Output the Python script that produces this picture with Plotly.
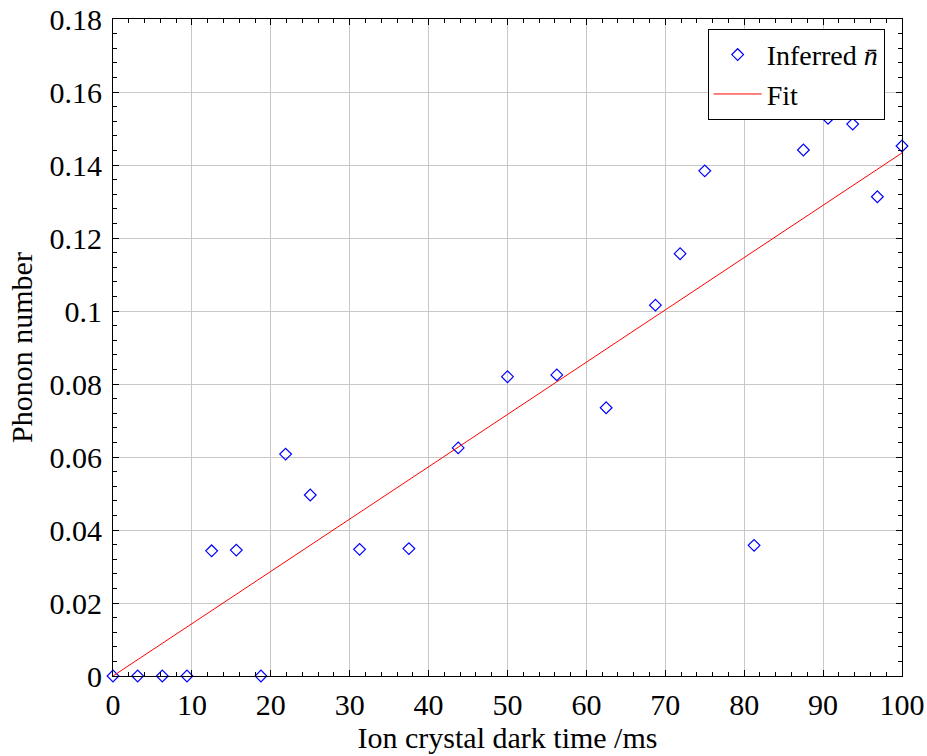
import plotly.graph_objects as go

# Data
dark_time_ms = [0, 3.125, 6.25, 9.375, 12.5, 15.625, 18.75, 21.875, 25, 31.25, 37.5,
                43.75, 50, 56.25, 62.5, 68.75, 71.875, 75, 81.25, 87.5, 90.625,
                93.75, 96.875, 100]
phonon_number = [0, 0, 0, 0, 0.0343, 0.0345, 0, 0.0608, 0.0496, 0.0347, 0.0349,
                 0.0625, 0.0820, 0.0825, 0.0735, 0.1016, 0.1157, 0.1384, 0.0358,
                 0.1441, 0.1528, 0.1512, 0.1313, 0.1452]
fit_x = [0, 100]
fit_y = [0, 0.1433]

FONT = "Liberation Serif"
FS = 30

fig = go.Figure()
fig.add_trace(go.Scatter(
    x=dark_time_ms, y=phonon_number, mode="markers",
    name="Inferred <i>n̄</i>",
    marker=dict(symbol="diamond-open", size=9, color="blue", line=dict(width=1.2, color="blue")),
    cliponaxis=False,
))
fig.add_trace(go.Scatter(
    x=fit_x, y=fit_y, mode="lines", name="Fit",
    line=dict(color="red", width=1),
))

axis_common = dict(
    showline=True, linecolor="black", linewidth=1, mirror="allticks",
    ticks="inside", ticklen=6, tickcolor="black",
    showgrid=True, gridcolor="#c8c8c8", gridwidth=1,
    zeroline=False, automargin=False, ticklabeloverflow="allow",
    tickfont=dict(family=FONT, size=FS, color="black"),
)

fig.update_xaxes(
    range=[0, 100], dtick=10, tick0=0,
    minor=dict(ticks="inside", ticklen=4, dtick=2, tickcolor="black", showgrid=False),
    title=dict(text="Ion crystal dark time /ms", font=dict(family=FONT, size=FS, color="black"), standoff=6),
    ticklabelstandoff=2,
    **axis_common,
)
fig.update_yaxes(
    range=[0, 0.18], dtick=0.02, tick0=0,
    minor=dict(ticks="inside", ticklen=4, dtick=0.004, tickcolor="black", showgrid=False),
    title=dict(text="Phonon number", font=dict(family=FONT, size=FS, color="black"), standoff=8),
    ticklabelstandoff=4,
    **axis_common,
)

fig.update_layout(
    width=927, height=756,
    margin=dict(l=113, r=25, t=19, b=80),
    plot_bgcolor="white", paper_bgcolor="white",
    font=dict(family=FONT, size=FS, color="black"),
    legend=dict(
        x=0.978, y=0.985, xanchor="right", yanchor="top",
        bordercolor="black", borderwidth=1, bgcolor="white",
        font=dict(family=FONT, size=FS - 2, color="black"),
        itemwidth=48,
    ),
)

fig.write_html("out.html")
